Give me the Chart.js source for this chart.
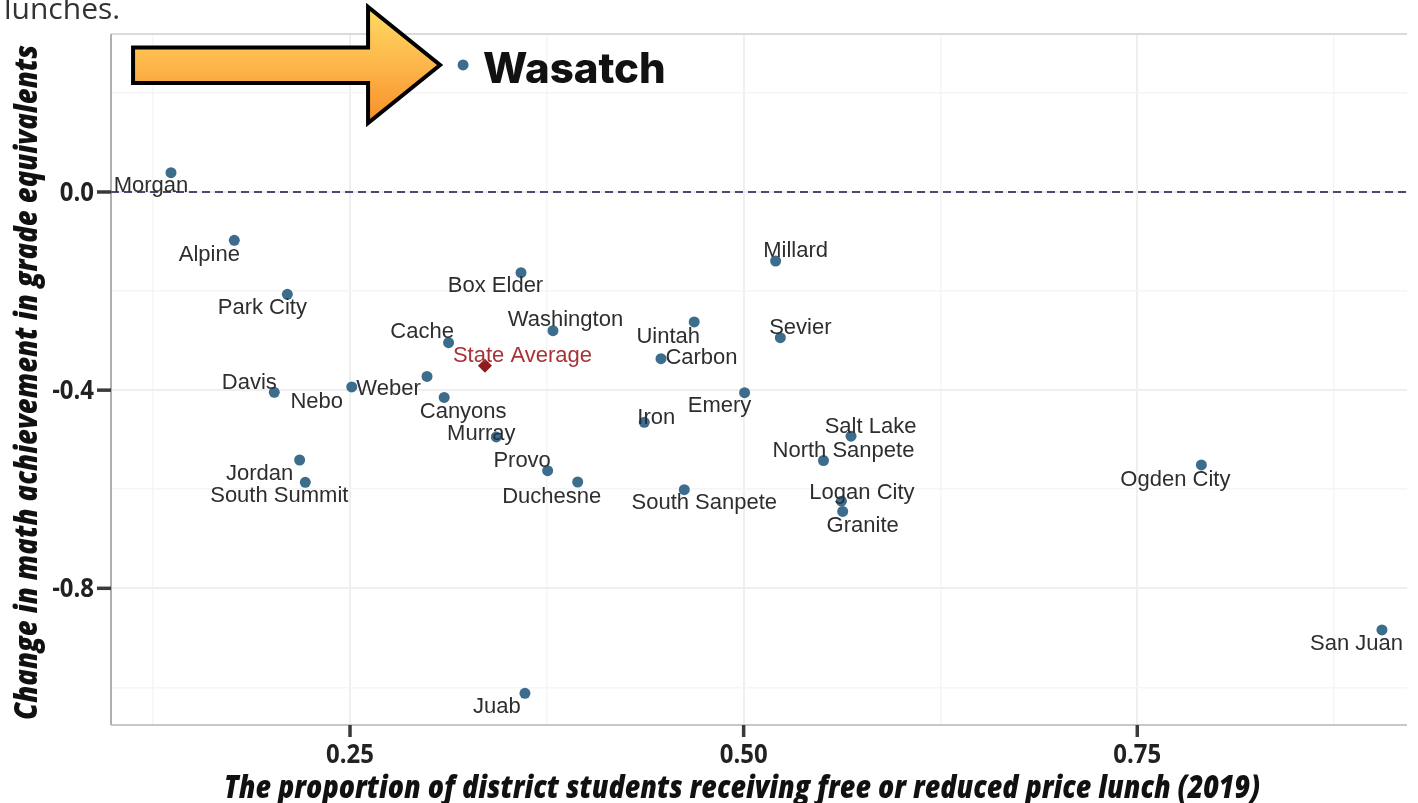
<!DOCTYPE html>
<html><head><meta charset="utf-8">
<script src="https://cdn.jsdelivr.net/npm/chart.js@4/dist/chart.umd.min.js"></script>
<style>
html,body{margin:0;padding:0;background:#fff;overflow:hidden}
#wrap{position:relative;width:1418px;height:803px}
canvas{display:block}
</style></head><body>
<div id="wrap"><canvas id="c" width="1418" height="803"></canvas></div>
<script>
// ---------- data ----------
const districts = ["Wasatch","Morgan","Alpine","Park City","Box Elder","Millard","Washington","Cache","Uintah","Sevier","Carbon","Davis","Nebo","Weber","Canyons","Emery","Iron","Salt Lake","Murray","North Sanpete","Provo","Jordan","Ogden City","South Summit","Duchesne","South Sanpete","Logan City","Granite","San Juan","Juab"];
const frlShare = [0.3218,0.1363,0.1765,0.2102,0.3586,0.5203,0.3789,0.3126,0.4686,0.5233,0.4475,0.2019,0.2511,0.2989,0.3098,0.5006,0.4369,0.5682,0.3429,0.5507,0.3755,0.2180,0.7907,0.2216,0.3946,0.4623,0.5621,0.5629,0.9054,0.3611];
const mathChange = [0.2564,0.0390,-0.0975,-0.2065,-0.1629,-0.1393,-0.2800,-0.3042,-0.2624,-0.2941,-0.3365,-0.4043,-0.3936,-0.3724,-0.4148,-0.4051,-0.4649,-0.4929,-0.4945,-0.5420,-0.5626,-0.5410,-0.5510,-0.5860,-0.5854,-0.6010,-0.6241,-0.6449,-0.8841,-1.0119];
const stateAvgLabel = "State Average";
const stateAvgX = [0.3357];
const stateAvgY = [-0.3506];
const highlightDistrict = "Wasatch";
const xTickValues = [0.25, 0.50, 0.75];
const yTickValues = [0.0, -0.4, -0.8];
const xGridValues = [0.125, 0.25, 0.375, 0.5, 0.625, 0.75, 0.875];
const yGridValues = [0.2, 0.0, -0.2, -0.4, -0.6, -0.8, -1.0];
const xTitle = "The proportion of district students receiving free or reduced price lunch (2019)";
const yTitle = "Change in math achievement in grade equivalents";
const topFragment = "lunches.";

// ---------- label placement (pixel nudges, like ggrepel output) ----------
const labelNudge = {
  "Morgan":[-20,12],"Alpine":[-25,13],"Park City":[-25,12],"Box Elder":[-25.5,12],"Millard":[20,-12],
  "Washington":[12.5,-12],"Cache":[-26.5,-12],"Uintah":[-26,13],"Sevier":[20,-11],"Carbon":[40.5,-2],
  "Davis":[-25,-11],"Nebo":[-35,13],"Weber":[-38.5,10.5],"Canyons":[19,12.5],"Emery":[-25,12],
  "Iron":[12,-6],"Salt Lake":[19.5,-11],"Murray":[-15,-5],"North Sanpete":[20,-11.5],"Provo":[-25.5,-11],
  "Jordan":[-40,12],"Ogden City":[-26,13],"South Summit":[-26,12],"Duchesne":[-26,13],"South Sanpete":[20,12],
  "Logan City":[20.5,-10],"Granite":[20,12.5],"San Juan":[-25.5,12],"Juab":[-28,12],"State Average":[37.5,-11]
};

const isIn = (arr, v) => arr.some(a => Math.abs(a - v) < 1e-9);

const overlay = {
  id: 'overlay',
  beforeDatasetsDraw(chart) {
    const {ctx, chartArea: a, scales: {x, y}} = chart;
    ctx.save();
    ctx.lineWidth = 2;
    ctx.strokeStyle = '#dadada';
    ctx.beginPath(); ctx.moveTo(a.left, a.top); ctx.lineTo(a.right, a.top); ctx.stroke();
    ctx.strokeStyle = '#c8c8c8';
    ctx.beginPath(); ctx.moveTo(a.left, a.bottom); ctx.lineTo(a.right, a.bottom); ctx.stroke();
    ctx.strokeStyle = '#b0b0b0';
    ctx.beginPath(); ctx.moveTo(a.left, a.top); ctx.lineTo(a.left, a.bottom); ctx.stroke();
    // zero reference line
    const y0 = y.getPixelForValue(0);
    ctx.setLineDash([8, 5]);
    ctx.strokeStyle = '#4a4a72';
    ctx.lineWidth = 2.2;
    ctx.beginPath(); ctx.moveTo(a.left, y0); ctx.lineTo(a.right, y0); ctx.stroke();
    ctx.restore();
  },
  afterDatasetsDraw(chart) {
    const {ctx, chartArea: a, scales: {x, y}} = chart;
    ctx.save();
    // district labels
    ctx.font = '22px "Liberation Sans", Arial, sans-serif';
    ctx.textAlign = 'center';
    ctx.textBaseline = 'middle';
    districts.forEach((name, i) => {
      if (name === highlightDistrict) return;
      const n = labelNudge[name] || [0, -12];
      ctx.fillStyle = '#2e2e2e';
      ctx.fillText(name, x.getPixelForValue(frlShare[i]) + n[0], y.getPixelForValue(mathChange[i]) + n[1] + 1.5);
    });
    const sn = labelNudge[stateAvgLabel];
    ctx.fillStyle = '#a83236';
    ctx.fillText(stateAvgLabel, x.getPixelForValue(stateAvgX[0]) + sn[0], y.getPixelForValue(stateAvgY[0]) + sn[1] + 1.5);

    // highlighted district: arrow + big label
    const hi = districts.indexOf(highlightDistrict);
    const px = x.getPixelForValue(frlShare[hi]);
    const py = y.getPixelForValue(mathChange[hi]);
    const g = ctx.createLinearGradient(0, py - 58, 0, py + 58);
    g.addColorStop(0, '#ffdb62');
    g.addColorStop(0.5, '#fdb64a');
    g.addColorStop(1, '#f78f28');
    ctx.beginPath();
    ctx.moveTo(px - 330, py - 17.5);
    ctx.lineTo(px - 95, py - 17.5);
    ctx.lineTo(px - 95, py - 58);
    ctx.lineTo(px - 23, py);
    ctx.lineTo(px - 95, py + 58);
    ctx.lineTo(px - 95, py + 18);
    ctx.lineTo(px - 330, py + 18);
    ctx.closePath();
    ctx.fillStyle = g;
    ctx.fill();
    ctx.lineWidth = 4;
    ctx.lineJoin = 'miter';
    ctx.strokeStyle = '#000';
    ctx.stroke();

    ctx.font = '800 42px Inter, "Open Sans", sans-serif';
    ctx.textAlign = 'left';
    ctx.textBaseline = 'alphabetic';
    ctx.fillStyle = '#111';
    ctx.fillText(highlightDistrict, px + 20, py + 18);

    // axis ticks + tick labels
    ctx.strokeStyle = '#3a3a3a';
    ctx.fillStyle = '#222';
    ctx.lineWidth = 3.5;
    ctx.setLineDash([]);
    const tickFont = 'bold 26px "Open Sans", sans-serif';
    yTickValues.forEach(v => {
      const ty = y.getPixelForValue(v);
      ctx.beginPath(); ctx.moveTo(a.left - 14, ty); ctx.lineTo(a.left, ty); ctx.stroke();
      fitText(ctx, v.toFixed(1), a.left - 17, ty + 9, tickFont, 0.92, 'right', 0);
    });
    xTickValues.forEach(v => {
      const tx = x.getPixelForValue(v);
      ctx.beginPath(); ctx.moveTo(tx, a.bottom); ctx.lineTo(tx, a.bottom + 12); ctx.stroke();
      fitText(ctx, v.toFixed(2), tx, a.bottom + 38, tickFont, 0.92, 'center', 0);
    });

    // axis titles
    ctx.fillStyle = '#111';
    const titleFont = 'italic 800 32px "Open Sans", sans-serif';
    fitWidth(ctx, xTitle, (224 + 1260) / 2, 798, titleFont, 1036, 0);
    fitWidth(ctx, yTitle, 37, (45 + 720) / 2, titleFont, 675, -Math.PI / 2);

    // fragment of preceding paragraph at the very top
    ctx.font = '30px "Open Sans", sans-serif';
    ctx.fillStyle = '#333';
    ctx.textAlign = 'left';
    ctx.fillText(topFragment, 4, 19);
    ctx.restore();
  }
};

function fitText(ctx, text, cx, cy, font, sx, align, rot) {
  ctx.save();
  ctx.font = font;
  ctx.translate(cx, cy);
  if (rot) ctx.rotate(rot);
  ctx.scale(sx, 1);
  ctx.textAlign = align;
  ctx.textBaseline = 'alphabetic';
  ctx.fillText(text, 0, 0);
  ctx.restore();
}
function fitWidth(ctx, text, cx, cy, font, targetW, rot) {
  ctx.save();
  ctx.font = font;
  const w = ctx.measureText(text).width;
  ctx.translate(cx, cy);
  if (rot) ctx.rotate(rot);
  ctx.scale(targetW / w, 1);
  ctx.textAlign = 'center';
  ctx.textBaseline = 'alphabetic';
  ctx.fillText(text, 0, 0);
  ctx.restore();
}

new Chart(document.getElementById('c'), {
  type: 'scatter',
  data: {
    datasets: [
      {
        label: 'Districts',
        data: districts.map((d, i) => ({x: frlShare[i], y: mathChange[i]})),
        backgroundColor: '#3d6d8d',
        borderWidth: 0,
        pointRadius: 5.5
      },
      {
        label: stateAvgLabel,
        data: stateAvgX.map((v, i) => ({x: v, y: stateAvgY[i]})),
        backgroundColor: '#8e1b1f',
        borderWidth: 0,
        pointStyle: 'rectRot',
        pointRadius: 7
      }
    ]
  },
  options: {
    responsive: false,
    animation: false,
    events: [],
    layout: {padding: {left: 111, right: 11, top: 34, bottom: 78}},
    plugins: {legend: {display: false}, tooltip: {enabled: false}},
    scales: {
      x: {
        type: 'linear', min: 0.0982, max: 0.9213,
        afterBuildTicks: s => { s.ticks = xGridValues.map(v => ({value: v})); },
        afterFit: s => { s.height = 0; },
        ticks: {display: false},
        border: {display: false},
        grid: {
          drawTicks: false,
          color: c => isIn(xTickValues, c.tick.value) ? '#efefef' : '#f5f5f5',
          lineWidth: c => isIn(xTickValues, c.tick.value) ? 2 : 1.5
        }
      },
      y: {
        type: 'linear', min: -1.0759, max: 0.3189,
        afterBuildTicks: s => { s.ticks = yGridValues.map(v => ({value: v})); },
        afterFit: s => { s.width = 0; },
        ticks: {display: false},
        border: {display: false},
        grid: {
          drawTicks: false,
          color: c => isIn(yTickValues, c.tick.value) ? '#efefef' : '#f5f5f5',
          lineWidth: c => isIn(yTickValues, c.tick.value) ? 2 : 1.5
        }
      }
    }
  },
  plugins: [overlay]
});
</script>
</body></html>
